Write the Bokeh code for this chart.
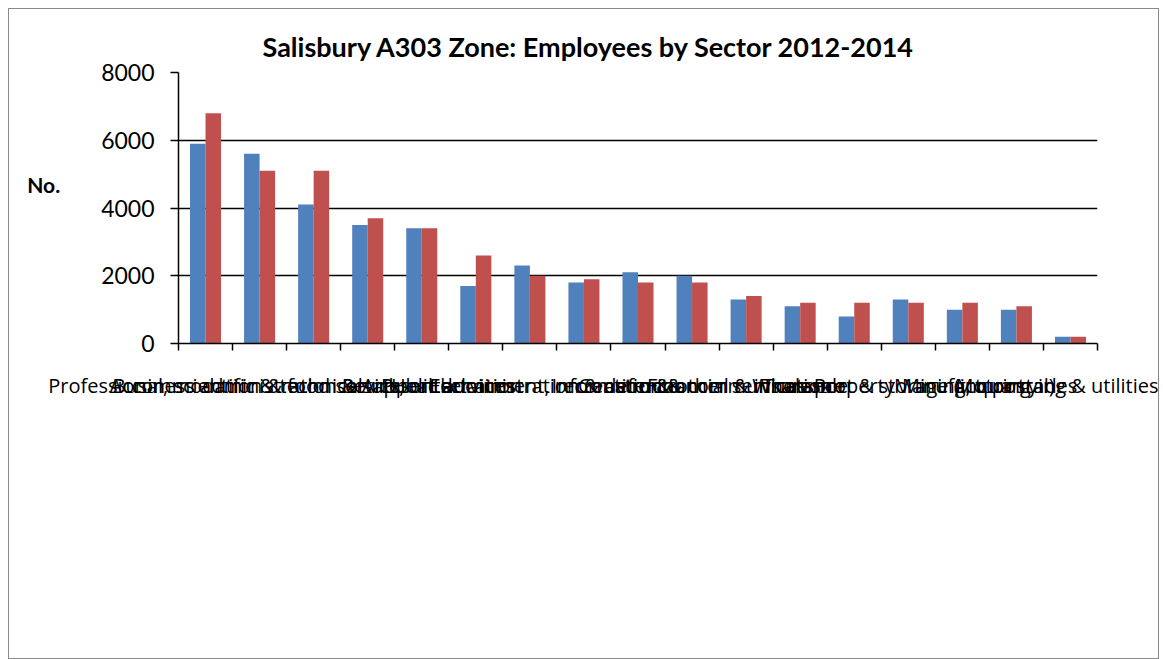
import numpy as np
from bokeh.plotting import figure
from bokeh.layouts import column
from bokeh.models import (ColumnDataSource, FixedTicker, Legend, LegendItem, Range1d)
from bokeh.transform import dodge
from bokeh.embed import file_html
from bokeh.resources import INLINE

sectors = [
    "Professional, scientific & technical",
    "Accommodation & food services",
    "Business administration & support services",
    "Retail",
    "Health",
    "Education",
    "Public administration & defence",
    "Arts, entertainment, recreation & other services",
    "Construction",
    "Information & communication",
    "Financial & insurance",
    "Wholesale",
    "Property",
    "Transport & storage (inc postal)",
    "Manufacturing",
    "Motor trades",
    "Mining, quarrying & utilities",
]
yr2012 = [5900, 5600, 4100, 3500, 3400, 1700, 2300, 1800, 2100, 2000, 1300, 1100, 800, 1300, 1000, 1000, 200]
yr2014 = [6800, 5100, 5100, 3700, 3400, 2600, 2000, 1900, 1800, 1800, 1400, 1200, 1200, 1200, 1200, 1100, 200]
series_names = ["Yr 2012", "Yr 2014"]
colors = ["#4F81BD", "#C0504D"]
y_ticks = [0, 2000, 4000, 6000, 8000]

n = len(sectors)
centers = np.arange(n) + 0.5
bar_w = 0.287

src = ColumnDataSource(dict(x=centers, y12=yr2012, y14=yr2014))

p = figure(frame_width=919, frame_height=271, output_backend="svg", toolbar_location=None,
           x_range=Range1d(0, n), y_range=Range1d(0, 8000),
           min_border_left=169, min_border_right=61, min_border_top=63, min_border_bottom=80,
           title="Salisbury A303 Zone: Employees by Sector 2012-2014")
p.outline_line_color = None

p.title.align = "left"
p.title.offset = 84
p.title.text_font = "Lato"
p.title.text_font_style = "bold"
p.title.text_font_size = "27px"
p.title.text_color = "black"
p.title.standoff = 20

r12 = p.vbar(x=dodge("x", -bar_w / 2), top="y12", width=bar_w, source=src,
             color=colors[0], line_color=None)
r14 = p.vbar(x=dodge("x", bar_w / 2), top="y14", width=bar_w, source=src,
             color=colors[1], line_color=None)

# axes
p.xaxis.ticker = FixedTicker(ticks=list(centers), minor_ticks=list(range(n + 1)))
p.xaxis.major_label_overrides = {float(c): s for c, s in zip(centers, sectors)}
p.xaxis.major_tick_line_color = None
p.xaxis.major_tick_out = 0
p.xaxis.major_tick_in = 0
p.xaxis.minor_tick_out = 7
p.xaxis.minor_tick_in = 0
p.xaxis.minor_tick_line_color = "black"
p.xaxis.minor_tick_line_width = 1.5
p.xaxis.axis_line_color = "black"
p.xaxis.axis_line_width = 1.5
p.xaxis.major_label_text_font = "Open Sans"
p.xaxis.major_label_text_font_size = "20px"
p.xaxis.major_label_text_color = "black"
p.xaxis.major_label_standoff = 21

p.yaxis.ticker = FixedTicker(ticks=y_ticks)
p.yaxis.minor_tick_line_color = None
p.yaxis.major_tick_out = 8
p.yaxis.major_tick_in = 0
p.yaxis.major_tick_line_color = "black"
p.yaxis.major_tick_line_width = 1.5
p.yaxis.axis_line_color = "black"
p.yaxis.axis_line_width = 1.5
p.yaxis.major_label_text_font = "Lato"
p.yaxis.major_label_text_font_size = "23px"
p.yaxis.major_label_text_color = "black"
p.yaxis.major_label_standoff = 16
p.yaxis.axis_label = "No.\n"
p.yaxis.axis_label_orientation = "horizontal"
p.yaxis.axis_label_text_font = "Lato"
p.yaxis.axis_label_text_font_style = "bold"
p.yaxis.axis_label_text_font_size = "21px"
p.yaxis.axis_label_text_line_height = 1.9
p.yaxis.axis_label_text_color = "black"
p.yaxis.axis_label_standoff = 38

p.xgrid.grid_line_color = None
p.ygrid.ticker = FixedTicker(ticks=y_ticks)
p.ygrid.grid_line_color = "black"
p.ygrid.grid_line_width = 1.5

# lower strip of the chart area, holding the legend
p2 = figure(width=1149, height=235, output_backend="svg", toolbar_location=None,
            x_axis_type=None, y_axis_type=None, min_border=0)
p2.outline_line_color = None
p2.grid.visible = False
empty = ColumnDataSource(dict(x=[], top=[]))
l12 = p2.vbar(x="x", top="top", width=1, source=empty, color=colors[0], line_color=None)
l14 = p2.vbar(x="x", top="top", width=1, source=empty, color=colors[1], line_color=None)

legend = Legend(items=[LegendItem(label=series_names[0], renderers=[l12]),
                       LegendItem(label=series_names[1], renderers=[l14])],
                location=(994, 13), orientation="vertical")
legend.border_line_color = None
legend.background_fill_alpha = 0
legend.padding = 0
legend.margin = 0
legend.glyph_width = 17
legend.glyph_height = 17
legend.label_height = 20
legend.spacing = 37
legend.label_text_font = "Lato"
legend.label_text_font_size = "21px"
legend.label_standoff = 5
p2.add_layout(legend)

layout = column(p, p2, spacing=0,
                styles={"border": "1px solid #8a8a8a", "margin-left": "8px", "margin-top": "8px"})

open("out.html", "w").write(file_html(layout, INLINE))
